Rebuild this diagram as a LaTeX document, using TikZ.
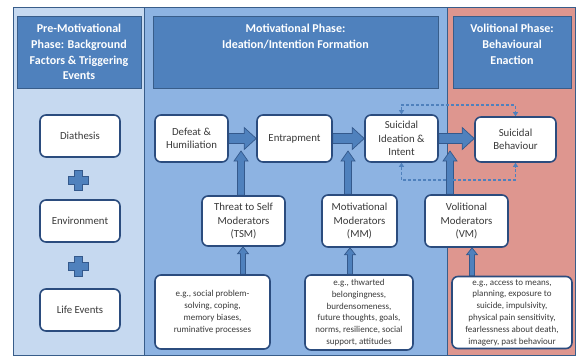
\documentclass[tikz,border=0pt]{standalone}
\usepackage{fontspec}
\setmainfont{Carlito}
\usetikzlibrary{calc,arrows.meta}
\pgfdeclarelayer{bg}\pgfdeclarelayer{arr}\pgfsetlayers{bg,arr,main}
\definecolor{panelL}{HTML}{C6D9F0}
\definecolor{panelM}{HTML}{8DB3E2}
\definecolor{panelR}{HTML}{DE968F}
\definecolor{hdr}{HTML}{4F81BD}
\definecolor{hdrline}{HTML}{385D8A}
\definecolor{boxline}{HTML}{2B4C7E}
\definecolor{txt}{HTML}{3A3A3A}
\definecolor{arrfill}{HTML}{4F81BD}
\definecolor{arrline}{HTML}{34598C}
\newcommand\harr[5]{\filldraw[blockarrow] let \p1=(#1), \p2=(#2) in
  (\x1,\y1+#3pt) -- (\x2-#5pt,\y1+#3pt) -- (\x2-#5pt,\y1+#4pt) -- (\x2,\y1)
  -- (\x2-#5pt,\y1-#4pt) -- (\x2-#5pt,\y1-#3pt) -- (\x1,\y1-#3pt) -- cycle;}
\newcommand\varr[5]{\filldraw[blockarrow] let \p1=(#1), \p2=(#2) in
  (\x1+#3pt,\y1) -- (\x1+#3pt,\y2-#5pt) -- (\x1+#4pt,\y2-#5pt) -- (\x1,\y2)
  -- (\x1-#4pt,\y2-#5pt) -- (\x1-#3pt,\y2-#5pt) -- (\x1-#3pt,\y1) -- cycle;}
\newcommand\plussign[2]{\filldraw[blockarrow] (#1-4,#2-10) -- (#1+4,#2-10) -- (#1+4,#2-4)
  -- (#1+10,#2-4) -- (#1+10,#2+4) -- (#1+4,#2+4) -- (#1+4,#2+10) -- (#1-4,#2+10)
  -- (#1-4,#2+4) -- (#1-10,#2+4) -- (#1-10,#2-4) -- (#1-4,#2-4) -- cycle;}
\tikzset{
  box/.style={draw=boxline, line width=1.6pt, fill=white, rounded corners=6pt,
    align=center, text=txt, font=\fontsize{10.8}{13.5}\selectfont, inner sep=0pt},
  exbox/.style={box, font=\fontsize{9}{11.8}\selectfont},
  hdrbox/.style={fill=hdr, draw=hdrline, line width=1pt},
  hdrtext/.style={text=white, font=\fontsize{12}{15.8}\selectfont\bfseries, align=center, inner sep=0pt},
  panel/.style={draw=hdrline, line width=0.8pt},
  blockarrow/.style={fill=arrfill, draw=arrline, line width=0.7pt},
  dasharrow/.style={draw=arrfill, line width=1.3pt, dash pattern=on 3pt off 2pt,
    {Triangle[length=4pt,width=5pt]}-{Triangle[length=4pt,width=5pt]}}
}
\begin{document}
\begin{tikzpicture}[x=1pt,y=-1pt]
\useasboundingbox (0,0) rectangle (577,356);
\begin{pgfonlayer}{bg}
\fill[white] (0,0) rectangle (577,356);
\filldraw[panel, fill=panelL] (13,7) rectangle (144,355);
\filldraw[panel, fill=panelM] (144,7) rectangle (447,355);
\filldraw[panel, fill=panelR] (447,7) rectangle (575,355);
\filldraw[hdrbox] (17,16) rectangle (141,88);
\filldraw[hdrbox] (153,16) rectangle (438,88);
\filldraw[hdrbox] (453,16) rectangle (571,88);
\end{pgfonlayer}
\node[hdrtext] (hL) at (79,52) {Pre-Motivational\\Phase: Background\\Factors \& Triggering\\Events};
\node[hdrtext, anchor=north] (hM) at (295.5,24) {Motivational Phase:\\Ideation/Intention Formation};
\node[hdrtext, anchor=north] (hR) at (512,24) {Volitional Phase:\\Behavioural\\Enaction};
% left column
\node[box, minimum width=80pt, minimum height=42pt] (diath) at (80,136) {Diathesis};
\node[box, minimum width=80pt, minimum height=42pt] (env) at (80,221) {Environment};
\node[box, minimum width=80pt, minimum height=42pt] (life) at (80,310) {Life Events};
\plussign{78}{180}
\plussign{78}{266}
% main row
\node[box, minimum width=73pt, minimum height=47pt] (defeat) at (191.5,138.5) {Defeat \&\\Humiliation};
\node[box, minimum width=75pt, minimum height=47pt] (entrap) at (294.5,138.5) {Entrapment};
\node[box, minimum width=73pt, minimum height=47pt] (sii) at (401.5,138.5) {Suicidal\\Ideation \&\\Intent};
\node[box, minimum width=81pt, minimum height=45pt] (sb) at (515.5,139.5) {Suicidal\\Behaviour};
% moderators
\node[box, minimum width=83pt, minimum height=50pt] (tsm) at (243.5,221) {Threat to Self\\Moderators\\(TSM)};
\node[box, minimum width=75pt, minimum height=52pt] (mm) at (359.5,221) {Motivational\\Moderators\\(MM)};
\node[box, minimum width=83pt, minimum height=52pt] (vm) at (466.5,221) {Volitional\\Moderators\\(VM)};
% examples
\node[exbox, minimum width=115pt, minimum height=74pt] (tsmex) at (212.5,312) {e.g., social problem-\\solving, coping,\\memory biases,\\ruminative processes};
\node[exbox, minimum width=108pt, minimum height=75pt] (mmex) at (359,312.5) {e.g., thwarted\\belongingness,\\burdensomeness,\\future thoughts, goals,\\norms, resilience, social\\support, attitudes};
\node[exbox, minimum width=120pt, minimum height=72pt] (vmex) at (512,312.5) {e.g., access to means,\\planning, exposure to\\suicide, impulsivity,\\physical pain sensitivity,\\fearlessness about death,\\imagery, past behaviour};
% arrow anchor coordinates
\coordinate (u1) at (241,151);
\coordinate (u2) at (348,151);
\coordinate (u3) at (450,151);
\coordinate (l1) at (243,0);
\coordinate (l2) at (350,0);
\coordinate (l3) at (472,0);
\coordinate (dtop) at (460,105);
\coordinate (dbot) at (460,180);
\begin{pgfonlayer}{arr}
\harr{defeat.east}{entrap.west}{5}{11}{12}
\harr{entrap.east}{sii.west}{5}{11}{12}
\harr{sii.east}{sb.west}{5}{11}{12}
\varr{tsm.north -| u1}{u1}{3.5}{7}{10}
\varr{mm.north -| u2}{u2}{3.5}{7}{10}
\varr{vm.north -| u3}{u3}{3.5}{7}{10}
\varr{tsmex.north -| l1}{tsm.south -| l1}{2.5}{5.5}{7}
\varr{mmex.north -| l2}{mm.south -| l2}{2.5}{5.5}{7}
\varr{vmex.north -| l3}{vm.south -| l3}{2.5}{5.5}{7}
\draw[dasharrow] (sii.north) |- (dtop) -| (sb.north);
\draw[dasharrow] (sii.south) |- (dbot) -| (sb.south);
\end{pgfonlayer}
\end{tikzpicture}
\end{document}
